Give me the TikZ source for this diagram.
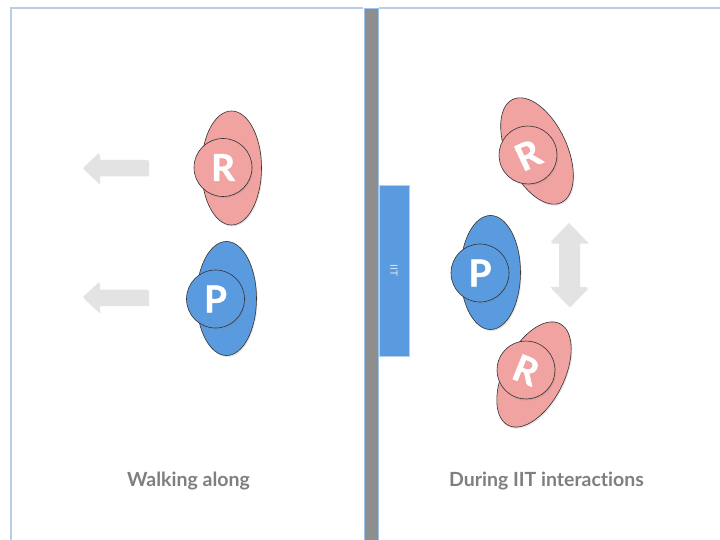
\documentclass[tikz,border=0pt]{standalone}
\usepackage{fontspec}
\setmainfont{Lato}[Ligatures=CommonOff]
\newfontfamily\heavyfont{Lato}[BoldFeatures={FakeBold=1.2}]
\usetikzlibrary{shapes.geometric,shadows}
\definecolor{pinkf}{HTML}{F0A3A1}
\definecolor{bluef}{HTML}{5A9BE0}
\definecolor{panel}{HTML}{B7CEE6}
\definecolor{wall}{HTML}{8E8E8E}
\definecolor{arr}{HTML}{E3E3E3}
\definecolor{lbl}{HTML}{7F7F7F}
\begin{document}
\begin{tikzpicture}[x=1pt,y=-1pt,
  shd/.style={drop shadow={opacity=0.22,shadow xshift=1pt,shadow yshift=-1.5pt}},
  body/.style={ellipse, draw=black!80, line width=0.6pt, inner sep=0pt,
    minimum width=60pt, minimum height=114pt, shd},
  head/.style={circle, draw=black!80, line width=0.6pt, inner sep=0pt,
    minimum size=58pt, text=white, shd,
    font=\heavyfont\bfseries\fontsize{37}{37}\selectfont},
  bigarrow/.style={fill=arr, shd},
  caption/.style={text=lbl, font=\bfseries\fontsize{19.5}{19.5}\selectfont}]
\useasboundingbox (0,0) rectangle (720,540);
\fill[white] (0,0) rectangle (720,540);
% panels
\draw[panel, line width=1.5pt] (11,541) -- (11,8) -- (363,8);
\draw[panel, line width=1.5pt] (379,8) -- (721,8);
\draw[fill=wall, draw=bluef!60, line width=0.7pt] (364,8) rectangle (378,541);
% IIT
\node[fill=bluef, draw=panel, line width=0.6pt, minimum width=30pt, minimum height=171pt, inner sep=0pt] (iit) at (394,270.5) {};
\node[rotate=-90, text=white!80!bluef, font=\fontsize{10}{10}\selectfont] (iitlabel) at (iit.center) {IIT};
% left side
\path[bigarrow] (83,168) -- (99,153) -- (99,160) -- (148,160) -- (148,175) -- (99,175) -- (99,183) -- cycle;
\path[bigarrow] (83,297) -- (99,282) -- (99,289.5) -- (148,289.5) -- (148,304.5) -- (99,304.5) -- (99,312) -- cycle;
\node[body, fill=pinkf] (lRb) at (231.5,168) {};
\node[head, fill=pinkf] (lRh) at (223,167.5) {R};
\node[body, fill=bluef] (lPb) at (226.5,298.5) {};
\node[head, fill=bluef] (lPh) at (215.5,299) {P};
% right side
\node[body, fill=bluef] (rPb) at (490.5,272.5) {};
\node[head, fill=bluef] (rPh) at (480,273) {P};
\node[body, fill=pinkf, rotate=25] (rRb1) at (537,151) {};
\node[head, fill=pinkf, rotate=25] (rRh1) at (528,155) {R};
\node[body, fill=pinkf, rotate=-27] (rRb2) at (534,374.5) {};
\node[head, fill=pinkf, rotate=-22] (rRh2) at (526,370) {R};
\path[bigarrow] (569,223) -- (587.5,242) -- (579,242) -- (579,287) -- (587.5,287) -- (569,306) -- (550.5,287) -- (559,287) -- (559,242) -- (550.5,242) -- cycle;
% captions
\node[caption] (cap1) at (188.5,481) {Walking along};
\node[caption] (cap2) at (546.5,481) {During IIT interactions};
\end{tikzpicture}
\end{document}
